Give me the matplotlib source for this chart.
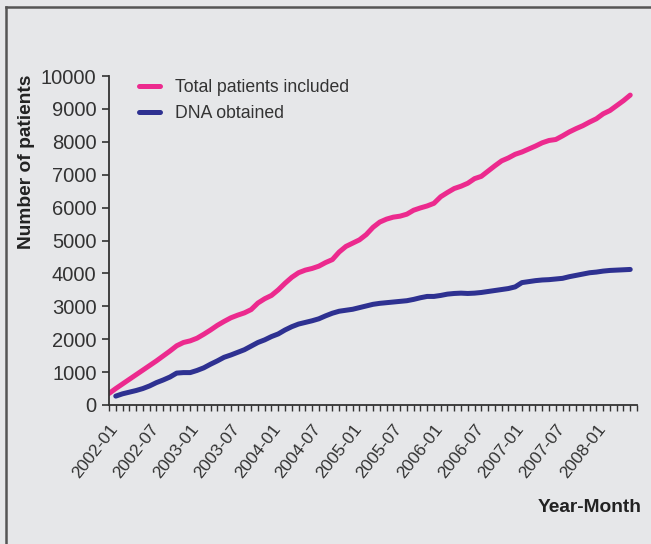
import matplotlib.pyplot as plt
from matplotlib.lines import Line2D

# monthly totals, 2002-01 .. 2008-06
total = [350, 500, 640, 780, 920, 1060, 1200, 1340, 1490, 1640,
         1800, 1900, 1950, 2030, 2150, 2280, 2420, 2540, 2650, 2730,
         2800, 2900, 3100, 3230, 3330, 3500, 3700, 3880, 4020, 4100,
         4150, 4220, 4330, 4420, 4650, 4820, 4920, 5020, 5180, 5400,
         5560, 5650, 5710, 5740, 5800, 5920, 5990, 6050, 6130, 6330,
         6460, 6580, 6650, 6740, 6880, 6950, 7110, 7270, 7420, 7510,
         7620, 7690, 7780, 7870, 7970, 8040, 8070, 8180, 8300, 8400,
         8490, 8600, 8700, 8850, 8950, 9100, 9250, 9420]
# DNA obtained, 2002-02 .. 2008-06
dna = [270, 340, 390, 440, 500, 580, 680, 760, 850, 970,
       985, 985, 1050, 1130, 1240, 1340, 1450, 1520, 1600, 1680,
       1790, 1900, 1980, 2080, 2160, 2280, 2380, 2460, 2510, 2560,
       2620, 2710, 2790, 2850, 2880, 2910, 2960, 3010, 3060, 3090,
       3110, 3130, 3150, 3170, 3210, 3260, 3300, 3300, 3330, 3370,
       3390, 3400, 3390, 3400, 3420, 3450, 3480, 3510, 3540, 3590,
       3720, 3750, 3780, 3800, 3810, 3830, 3850, 3900, 3940, 3980,
       4020, 4040, 4070, 4090, 4100, 4110, 4120]
tick_labels = ['2002-01', '2002-07', '2003-01', '2003-07', '2004-01',
               '2004-07', '2005-01', '2005-07', '2006-01', '2006-07',
               '2007-01', '2007-07', '2008-01']
n_months = 79  # ticks 2002-01 .. 2008-07

pink = '#ec2a8e'
navy = '#2e3191'
bg = '#e6e7e9'

plt.rcParams['font.family'] = ['Liberation Sans', 'DejaVu Sans']

fig = plt.figure(figsize=(6.51, 5.44), dpi=100, facecolor=bg)
ax = fig.add_axes([109/651, 1-405/544, 528/651, 329/544])
ax.set_facecolor(bg)

ax.plot(range(len(total)), total, color=pink, lw=3.6, solid_capstyle='round',
        label='Total patients included')
ax.plot(range(1, len(dna)+1), dna, color=navy, lw=3.6, solid_capstyle='round',
        label='DNA obtained')

ax.set_xlim(0, n_months-1)
ax.set_ylim(0, 10000)
ax.set_yticks(range(0, 10001, 1000))
ax.tick_params(axis='y', labelsize=14.5, length=5, width=1.2, pad=4, colors='#333333')

ax.set_xticks(range(0, n_months))
labels = [''] * n_months
for i, t in enumerate(tick_labels):
    labels[i*6] = t
ax.set_xticklabels(labels, rotation=52, ha='right', va='top',
                   rotation_mode='anchor', fontsize=12.5, color='#333333')
ax.tick_params(axis='x', length=4, width=1, pad=8, colors='#333333')

for s in ['top', 'right']:
    ax.spines[s].set_visible(False)
for s in ['left', 'bottom']:
    ax.spines[s].set_color('#333333')
    ax.spines[s].set_linewidth(1.3)

ax.set_ylabel('Number of patients', fontsize=13.8, fontweight='bold', color='#222222')
ax.yaxis.set_label_coords(-0.141, 0.74)
fig.text(642/651, 1-508/544, 'Year-Month', ha='right', va='center',
         fontsize=13.8, fontweight='bold', color='#222222')

leg = ax.legend(loc='upper left', bbox_to_anchor=(0.026, 1.04), frameon=False,
                fontsize=12.7, handlelength=1.2, handletextpad=0.85,
                labelspacing=0.55)
for t in leg.get_texts():
    t.set_color('#333333')

# frame at top and left edge
fig.add_artist(Line2D([6/651, 1], [1-7/544, 1-7/544], color='#555555', lw=1.8))
fig.add_artist(Line2D([6/651, 6/651], [0, 1-7/544], color='#555555', lw=1.8))

fig.savefig('out.png', dpi=100, facecolor=bg)
